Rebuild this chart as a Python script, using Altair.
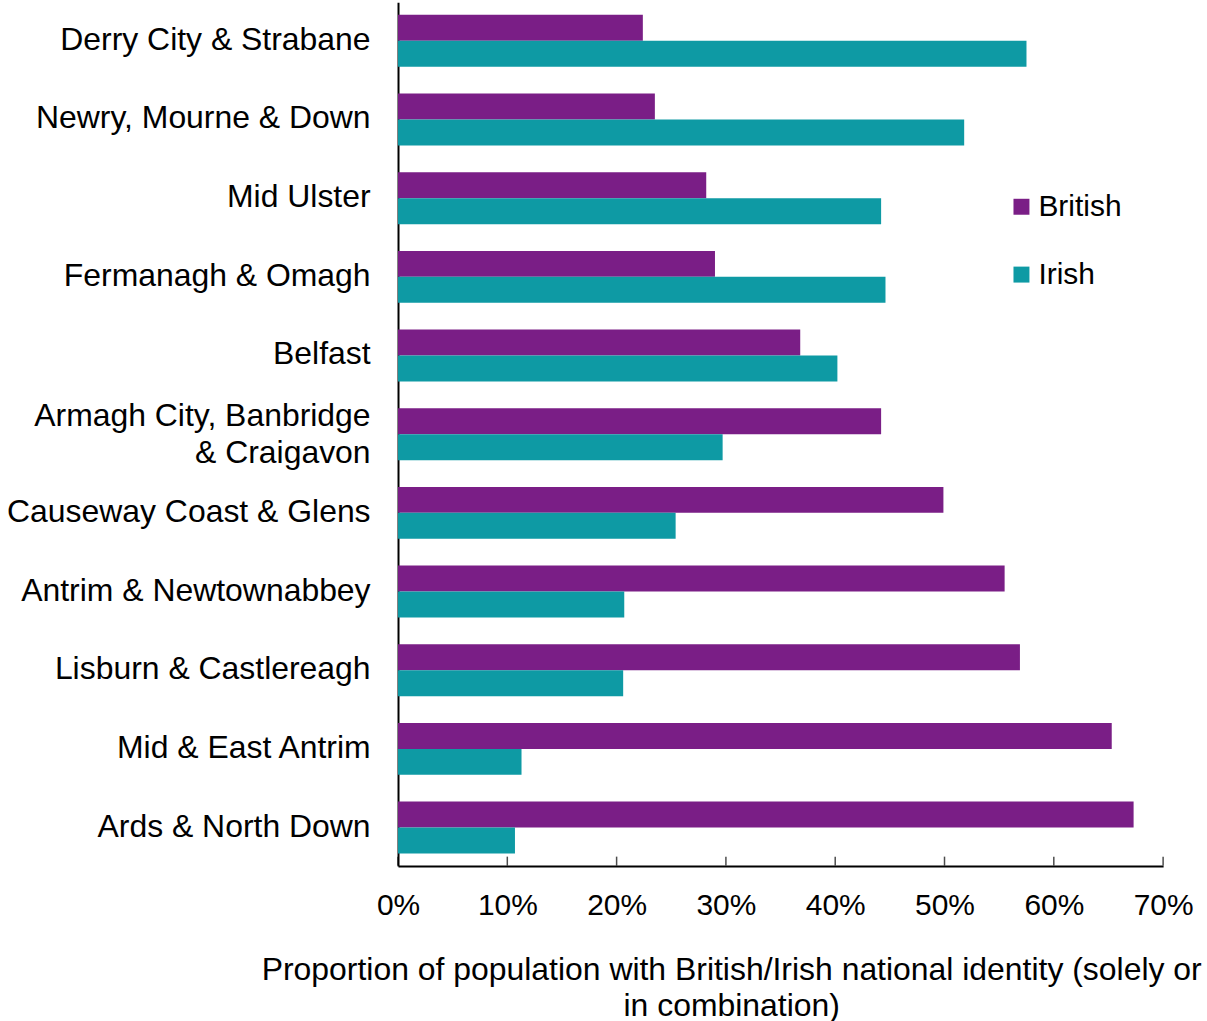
import altair as alt
import pandas as pd

areas = [
    "Derry City & Strabane",
    "Newry, Mourne & Down",
    "Mid Ulster",
    "Fermanagh & Omagh",
    "Belfast",
    "Armagh City, Banbridge & Craigavon",
    "Causeway Coast & Glens",
    "Antrim & Newtownabbey",
    "Lisburn & Castlereagh",
    "Mid & East Antrim",
    "Ards & North Down",
]
british = [22.4, 23.5, 28.2, 29.0, 36.8, 44.2, 49.9, 55.5, 56.9, 65.3, 67.3]
irish = [57.5, 51.8, 44.2, 44.6, 40.2, 29.7, 25.4, 20.7, 20.6, 11.3, 10.7]
series = ["British", "Irish"]
colors = ["#7a1e86", "#0e9aa4"]
tick_values = [0, 0.1, 0.2, 0.3, 0.4, 0.5, 0.6, 0.7]

rows = []
for a, b, i in zip(areas, british, irish):
    rows.append({"area": a, "identity": "British", "value": b / 100})
    rows.append({"area": a, "identity": "Irish", "value": i / 100})
df = pd.DataFrame(rows)
ticks_df = pd.DataFrame({"v": tick_values})

W, H = 767, 866
FONT = "Liberation Sans"

xscale = alt.Scale(domain=[0, 0.7], nice=False)

bars = alt.Chart(df).mark_bar().encode(
    x=alt.X(
        "value:Q",
        scale=xscale,
        axis=alt.Axis(
            format=".0%",
            values=tick_values,
            grid=False,
            ticks=False,
            domainColor="black",
            domainWidth=2,
            labelFontSize=30,
            labelColor="black",
            labelPadding=25,
            labelFlush=False,
            titleFontSize=32,
            titleFontWeight="normal",
            titleColor="black",
            title=[
                "Proportion of population with British/Irish national identity (solely or",
                "in combination)",
            ],
            titleX=334,
            titleY=89,
            titleAlign="center",
            titleBaseline="top",
            titleLineHeight=36,
        ),
    ),
    y=alt.Y(
        "area:N",
        sort=areas,
        scale=alt.Scale(paddingInner=0.34, paddingOuter=0.16),
        axis=alt.Axis(
            title=None,
            ticks=False,
            domainColor="black",
            domainWidth=2,
            labelFontSize=32,
            labelColor="black",
            labelPadding=28,
            labelLimit=0,
            labelLineHeight=37,
            labelOffset={
                "condition": {
                    "test": "datum.value == 'Armagh City, Banbridge & Craigavon'",
                    "value": -18,
                },
                "value": -1,
            },
            labelExpr="datum.label == 'Armagh City, Banbridge & Craigavon' ? ['Armagh City, Banbridge', '& Craigavon'] : datum.label",
        ),
    ),
    yOffset=alt.YOffset("identity:N", sort=series),
    color=alt.Color(
        "identity:N",
        sort=series,
        scale=alt.Scale(domain=series, range=colors),
        legend=alt.Legend(
            title=None,
            orient="none",
            legendX=610,
            legendY=190,
            symbolType="square",
            symbolSize=256,
            symbolStrokeWidth=0,
            labelFontSize=30,
            labelColor="black",
            rowPadding=38,
            labelOffset=2,
        ),
    ),
)

axis_ticks = alt.Chart(ticks_df).mark_tick(color="black", thickness=1.5, size=9).encode(
    x=alt.X("v:Q", scale=xscale),
    y=alt.value(H - 5),
)

chart = (
    alt.layer(bars, axis_ticks)
    .properties(width=W, height=H, padding={"left": 6, "top": 1, "right": 5, "bottom": 0})
    .configure(font=FONT)
    .configure_view(stroke=None)
)

chart.save("out.html", embed_options={"renderer": "svg", "actions": False})
